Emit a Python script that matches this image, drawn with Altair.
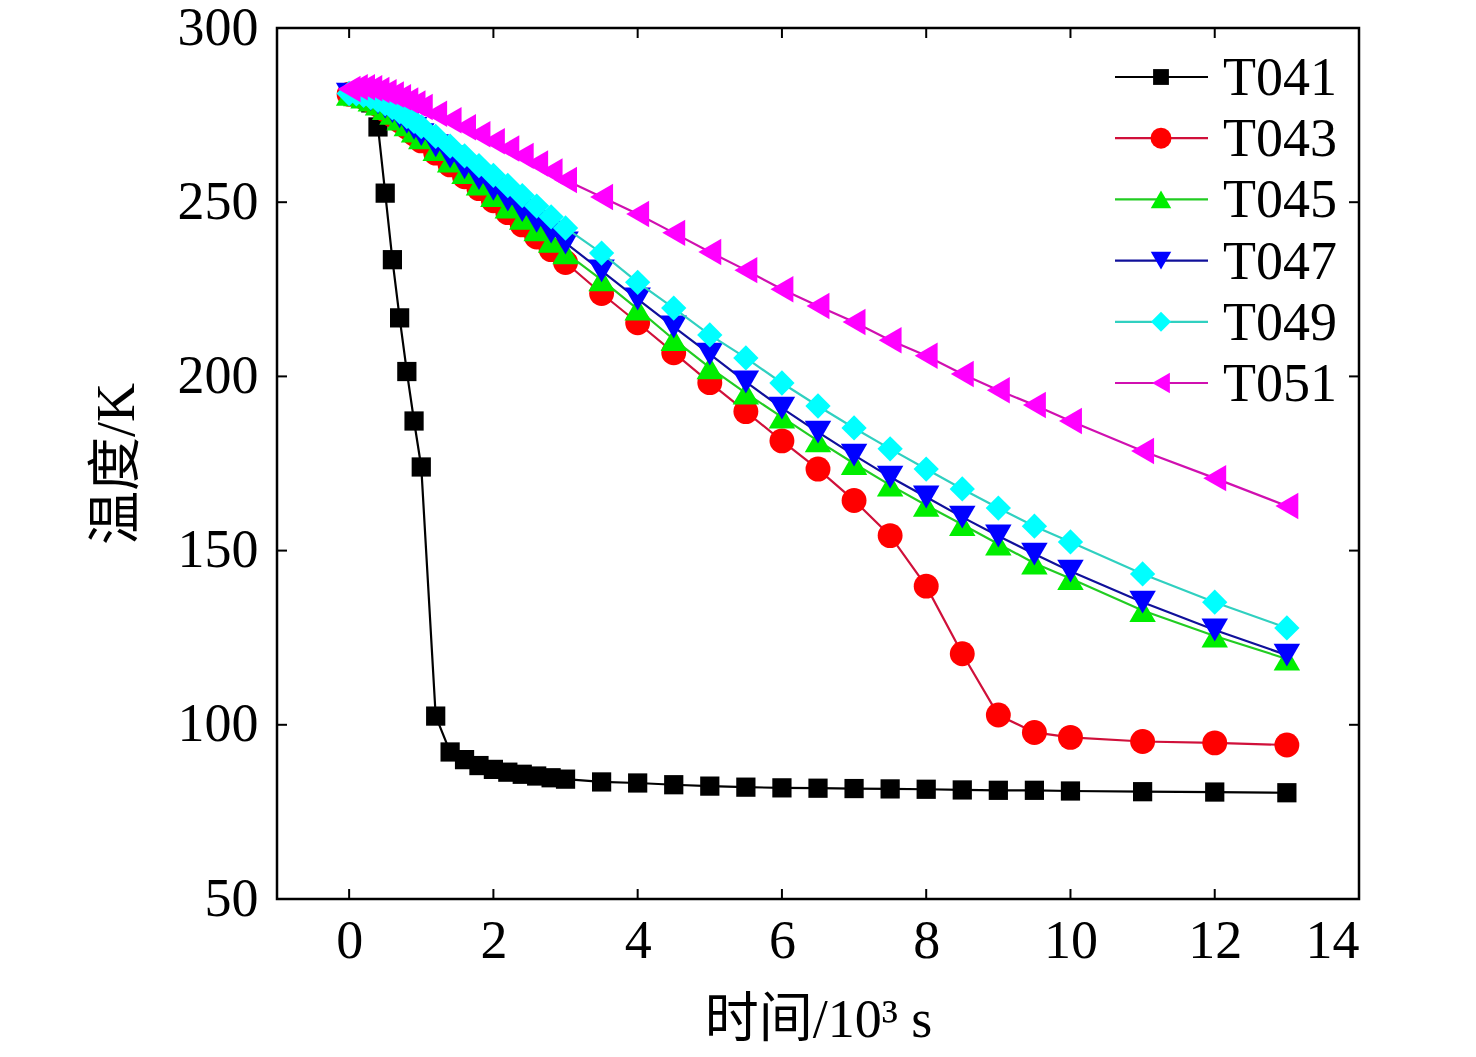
import altair as alt
import pandas as pd

# ---------------- data ----------------
time_ks = [0, 0.1, 0.2, 0.3, 0.4, 0.5, 0.6, 0.7, 0.8, 0.9, 1.0,
           1.2, 1.4, 1.6, 1.8, 2.0, 2.2, 2.4, 2.6, 2.8, 3.0,
           3.5, 4.0, 4.5, 5.0, 5.5, 6.0, 6.5, 7.0, 7.5, 8.0, 8.5, 9.0, 9.5, 10,
           11, 12, 13]

T041 = [281.0, 280.6, 279.8, 278.5, 271.6, 252.6, 233.5, 216.8, 201.4, 187.2, 174.0,
        102.5, 92.2, 90.0, 88.3, 87.2, 86.4, 85.8, 85.3, 84.8, 84.4,
        83.6, 83.3, 82.8, 82.4, 82.1, 81.9, 81.8, 81.7, 81.6, 81.5, 81.3, 81.2, 81.2, 81.0,
        80.8, 80.7, 80.5]
T043 = [281.0, 280.8, 280.1, 279.1, 277.9, 276.5, 275.0, 273.3, 271.5, 269.6, 267.6,
        264.1, 260.7, 257.3, 253.9, 250.4, 247.0, 243.5, 240.0, 236.4, 232.7,
        223.8, 215.4, 206.8, 198.2, 189.9, 181.5, 173.4, 164.4, 154.3, 139.8, 120.4, 102.8, 97.8, 96.4,
        95.2, 94.8, 94.2]
T045 = [281.0, 280.8, 280.2, 279.3, 278.2, 276.9, 275.5, 273.9, 272.2, 270.4, 268.5,
        265.1, 261.8, 258.5, 255.2, 251.9, 248.6, 245.4, 242.1, 238.8, 235.5,
        227.7, 219.3, 210.6, 202.5, 195.2, 188.3, 181.5, 175.0, 168.8, 163.0, 157.5, 151.9, 146.4, 142.0,
        132.8, 125.5, 118.9]
T047 = [281.0, 280.8, 280.3, 279.5, 278.5, 277.3, 276.0, 274.5, 272.9, 271.2, 269.4,
        266.2, 263.0, 259.9, 256.8, 253.7, 250.6, 247.6, 244.5, 241.4, 238.3,
        230.3, 222.2, 214.2, 206.4, 198.4, 190.9, 184.0, 177.4, 171.1, 165.4, 159.6, 154.2, 149.0, 144.1,
        135.2, 127.2, 120.0]
T049 = [281.2, 281.1, 280.7, 280.0, 279.2, 278.2, 277.1, 275.9, 274.6, 273.2, 271.7,
        268.9, 266.1, 263.3, 260.5, 257.7, 254.8, 251.9, 248.9, 245.8, 242.6,
        235.4, 227.0, 219.6, 211.9, 205.3, 198.1, 191.5, 185.2, 179.2, 173.4, 167.7, 162.2, 157.0, 152.5,
        143.3, 135.2, 127.8]
T051 = [282.5, 283.0, 283.0, 282.7, 282.2, 281.6, 280.9, 280.1, 279.2, 278.3, 277.3,
        275.4, 273.5, 271.5, 269.5, 267.5, 265.4, 263.3, 261.1, 258.8, 256.4,
        251.5, 246.6, 241.2, 235.7, 230.5, 225.0, 220.2, 215.6, 210.4, 205.9, 200.7, 196.0, 191.8, 187.2,
        178.6, 170.8, 162.8]

series_names = ["T041", "T043", "T045", "T047", "T049", "T051"]
series_values = [T041, T043, T045, T047, T049, T051]

x_ticks = [0, 2, 4, 6, 8, 10, 12]
y_ticks = [100, 150, 200, 250]

# ---------------- styles ----------------
marker_colors = ["#000000", "#ff0000", "#00ee00", "#0000ff", "#00ffff", "#ff00ff"]
line_colors = ["#000000", "#d0103a", "#22cc22", "#10109a", "#30d0c0", "#d010b0"]
shapes = ["square", "circle", "triangle-up", "triangle-down", "diamond", "triangle-left"]
sizes = [370, 620, 700, 700, 640, 700]
legend_sizes = [250, 440, 420, 420, 400, 420]

W, H = 1082, 871
FONT = "Liberation Serif, Times New Roman, Noto Sans CJK SC"

rows = []
for name, vals in zip(series_names, series_values):
    for t, v in zip(time_ks, vals):
        rows.append({"series": name, "t": t, "T": v})
df = pd.DataFrame(rows)

xscale = alt.Scale(domain=[-1, 14], nice=False, zero=False)
yscale = alt.Scale(domain=[50, 300], nice=False, zero=False)

base = alt.Chart(df)

xenc = alt.X("t:Q", scale=xscale,
             axis=alt.Axis(values=[0, 2, 4, 6, 8, 10, 12, 14], format="d", title="时间/10³ s",
                           titleBaseline="alphabetic", titleY=137))
yenc = alt.Y("T:Q", scale=yscale,
             axis=alt.Axis(values=[50, 100, 150, 200, 250, 300], format="d", title="温度/K",
                           titleAngle=-90, titleBaseline="middle", titleX=-160))

layers = []
for i, name in enumerate(series_names):
    sub = base.transform_filter(alt.datum.series == name)
    layers.append(sub.mark_line(strokeWidth=2.2, color=line_colors[i]).encode(x=xenc, y=yenc))
    layers.append(sub.mark_point(filled=True, opacity=1, size=sizes[i], shape=shapes[i],
                                 color=marker_colors[i], strokeWidth=0).encode(x="t:Q", y="T:Q"))

# inward ticks on all four sides
xt = alt.Chart(pd.DataFrame({"t": x_ticks}))
yt = alt.Chart(pd.DataFrame({"T": y_ticks}))
layers.append(xt.mark_rule(color="black", strokeWidth=2).encode(
    x="t:Q", y=alt.value(H), y2=alt.value(H - 10)))
layers.append(xt.mark_rule(color="black", strokeWidth=2).encode(
    x="t:Q", y=alt.value(0), y2=alt.value(10)))
layers.append(yt.mark_rule(color="black", strokeWidth=2).encode(
    y="T:Q", x=alt.value(0), x2=alt.value(10)))
layers.append(yt.mark_rule(color="black", strokeWidth=2).encode(
    y="T:Q", x=alt.value(W - 10), x2=alt.value(W)))

# legend (top right, inside plot)
one = alt.Chart(pd.DataFrame({"k": [0]}))
for i, name in enumerate(series_names):
    ly = 49 + i * 61.2
    layers.append(one.mark_rule(strokeWidth=2.2, color=line_colors[i]).encode(
        x=alt.value(838), x2=alt.value(931), y=alt.value(ly)))
    layers.append(one.mark_point(filled=True, opacity=1, size=legend_sizes[i], shape=shapes[i],
                                 color=marker_colors[i], strokeWidth=0).encode(
        x=alt.value(884), y=alt.value(ly)))
    layers.append(one.mark_text(align="left", baseline="middle", font=FONT, fontSize=54,
                                color="black").encode(
        x=alt.value(946), y=alt.value(ly + 2), text=alt.value(name)))

chart = alt.layer(*layers).properties(
    width=W, height=H,
    autosize=alt.AutoSizeParams(type="none"),
    padding={"left": 269, "top": 20, "right": 60, "bottom": 150},
    background="white",
).configure_view(
    stroke="black", strokeWidth=2.5
).configure_axis(
    grid=False, ticks=False, domain=False,
    labelFont=FONT, labelFontSize=54, labelColor="black",
    titleFont=FONT, titleFontSize=54, titleColor="black", titleFontWeight="normal",
).configure_axisX(
    labelPadding=15,
).configure_axisY(
    labelPadding=19,
)

chart.save("out.html", embed_options={"renderer": "svg", "actions": False})
